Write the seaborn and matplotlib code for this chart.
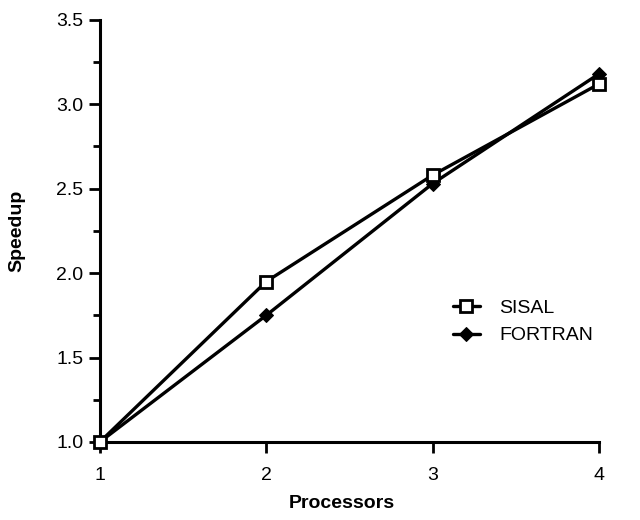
import matplotlib
matplotlib.use("Agg")
import matplotlib.pyplot as plt
import numpy as np
import pandas as pd
import seaborn as sns
from matplotlib.ticker import FixedLocator, MultipleLocator

# ---- data ----
processors = [1, 2, 3, 4]
sisal = [1.0, 1.95, 2.58, 3.12]
fortran = [1.0, 1.75, 2.53, 3.18]
series_names = ["SISAL", "FORTRAN"]
x_ticks = [1, 2, 3, 4]
y_ticks = [1.0, 1.5, 2.0, 2.5, 3.0, 3.5]
y_tick_labels = ["1.0", "1.5", "2.0", "2.5", "3.0", "3.5"]

df = pd.DataFrame({
    "Processors": processors + processors,
    "Speedup": sisal + fortran,
    "Series": [series_names[0]] * len(sisal) + [series_names[1]] * len(fortran),
})

sns.set_style("ticks")
plt.rcParams["font.family"] = ["Liberation Sans", "DejaVu Sans"]
plt.rcParams["text.color"] = "black"
plt.rcParams["axes.labelcolor"] = "black"
plt.rcParams["xtick.color"] = "black"
plt.rcParams["ytick.color"] = "black"

fig = plt.figure(figsize=(6.4, 5.2), dpi=100)
ax = fig.add_axes([0.156, 0.15, 0.78, 0.812])

sns.lineplot(
    data=df, x="Processors", y="Speedup", hue="Series", style="Series",
    markers={"SISAL": "s", "FORTRAN": "D"}, dashes=False,
    palette={"SISAL": "black", "FORTRAN": "black"},
    linewidth=2.4, legend=False, ax=ax, clip_on=False,
)

for line, name in zip(ax.lines, series_names):
    line.set_label(name)
    line.set_clip_on(False)
    if name == "SISAL":
        line.set_marker("s")
        line.set_markersize(9)
        line.set_markerfacecolor("white")
        line.set_markeredgecolor("black")
        line.set_markeredgewidth(2)
        line.set_zorder(4)
    else:
        line.set_marker("D")
        line.set_markersize(7)
        line.set_markerfacecolor("black")
        line.set_markeredgecolor("black")
        line.set_zorder(3)

ax.set_xlim(1, 4)
ax.set_ylim(1.0, 3.5)
ax.xaxis.set_major_locator(FixedLocator(x_ticks))
ax.set_xticklabels([str(v) for v in x_ticks])
ax.yaxis.set_major_locator(FixedLocator(y_ticks))
ax.set_yticklabels(y_tick_labels)
ax.yaxis.set_minor_locator(MultipleLocator(0.25))

for side in ["top", "right"]:
    ax.spines[side].set_visible(False)
for side in ["left", "bottom"]:
    ax.spines[side].set_linewidth(2.2)
    ax.spines[side].set_color("black")

ax.tick_params(axis="y", which="major", direction="out", length=8, width=2,
               labelsize=14, pad=4, colors="black")
ax.tick_params(axis="y", which="minor", direction="out", length=5, width=2,
               colors="black")
ax.tick_params(axis="x", which="major", direction="out", length=8, width=2,
               labelsize=14, pad=10, colors="black")

ax.set_xlabel("Processors", fontsize=14, fontweight="bold", color="black")
ax.set_ylabel("Speedup", fontsize=14, fontweight="bold", color="black")
ax.xaxis.set_label_coords(0.484, -0.125)
ax.yaxis.set_label_coords(-0.15, 0.5)

leg = ax.legend(
    loc="upper left", bbox_to_anchor=(435 / 640, 1 - 282 / 520),
    bbox_transform=fig.transFigure, frameon=False, fontsize=14,
    handlelength=1.4, handletextpad=1.0, labelspacing=0.5,
)
for t in leg.get_texts():
    t.set_color("black")

fig.savefig("out.png", dpi=100, facecolor="white")
